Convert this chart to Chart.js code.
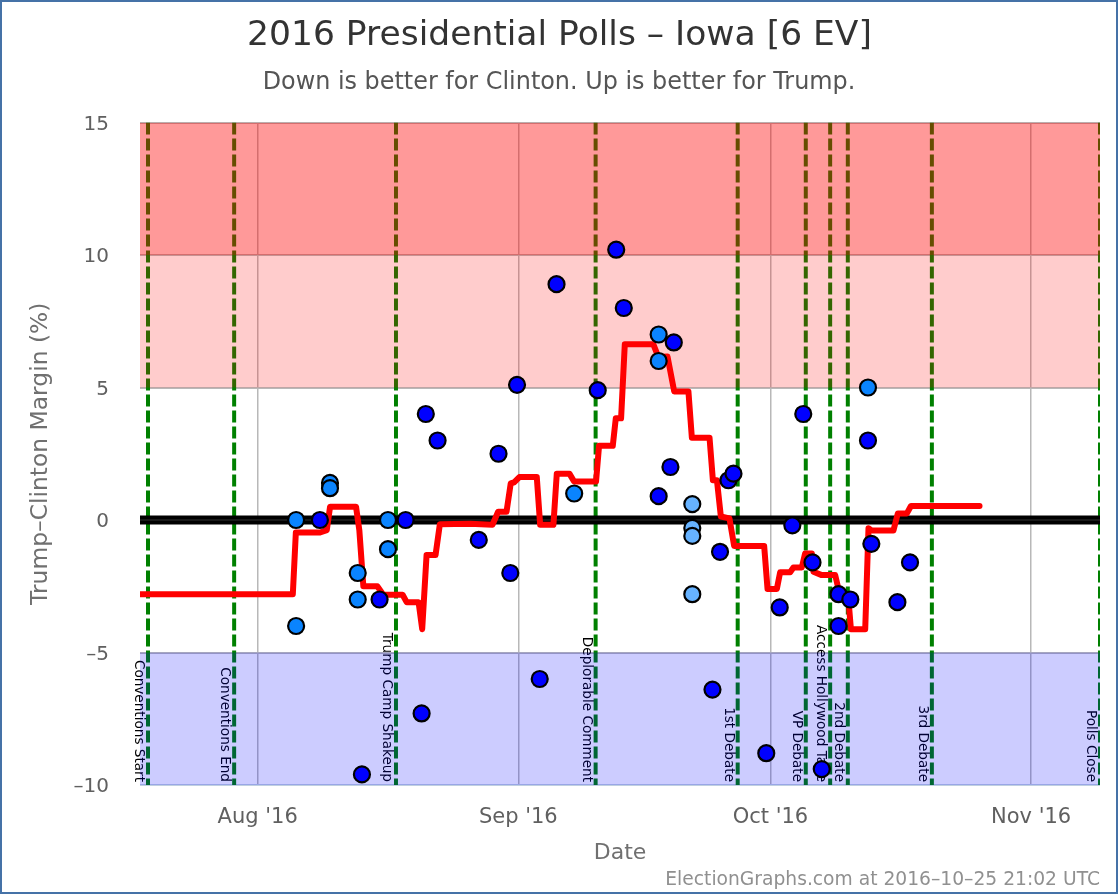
<!DOCTYPE html>
<html>
<head>
<meta charset="utf-8">
<title>2016 Presidential Polls - Iowa</title>
<script src="https://cdn.jsdelivr.net/npm/chart.js@4"></script>
<style>
  html, body { margin: 0; background: #fff; }
  #wrap { position: relative; width: 1118px; height: 894px; }
  #frame { position: absolute; inset: 0; box-sizing: border-box; border: 2px solid #4572a7; pointer-events: none; }
</style>
</head>
<body>
<div id="wrap">
  <canvas id="grafica" width="1118" height="894"></canvas>
  <div id="frame"></div>
</div>
<script>
// x values are days since 1 Aug 2016
const xMin = -14
const xMax = 100.2
const monthTicks = [0, 31, 61, 92]
const monthLabels = ["Aug '16", "Sep '16", "Oct '16", "Nov '16"]
const yTicks = [-10, -5, 0, 5, 10, 15]
const yTickLabels = ['–10', '–5', '0', '5', '10', '15']

const eventDays = [-13.05, -2.8, 16.45, 40.2, 57.1, 65.2, 68.1, 70.2, 80.2, 100.2]
const eventNames = ['Conventions Start', 'Conventions End', 'Trump Camp Shakeup', 'Deplorable Comment', '1st Debate', 'VP Debate', 'Access Hollywood Tape', '2nd Debate', '3rd Debate', 'Polls Close']

const bandFrom = [10, 5, -10]
const bandTo = [15, 10, -5]

const avgDays = [-14, 4.18, 4.54, 7.42, 8.22, 8.61, 11.7, 12.09, 12.57, 14.23, 14.94, 17.24, 17.72, 19.14, 19.57, 20.09, 21.16, 21.67, 25.24, 27.93, 28.6, 29.6, 30.1, 30.5, 31.13, 33.2, 33.6, 35.18, 35.58, 37.08, 37.64, 40.25, 40.61, 42.24, 42.6, 43.23, 43.67, 47.07, 47.67, 48.75, 49.55, 51.24, 51.65, 53.75, 54.15, 54.63, 55.1, 56.12, 56.68, 60.25, 60.65, 61.76, 62.15, 63.34, 63.73, 64.73, 65.12, 65.92, 66.11, 67.1, 68.7, 69.21, 70.25, 70.57, 72.27, 72.66, 73.07, 75.63, 76.15, 77.23, 77.71, 85.87]
const avgMargin = [-2.8, -2.8, -0.47, -0.47, -0.38, 0.5, 0.5, -0.38, -2.5, -2.5, -2.82, -2.82, -3.1, -3.1, -4.12, -1.32, -1.32, -0.16, -0.14, -0.18, 0.31, 0.31, 1.38, 1.42, 1.62, 1.62, -0.18, -0.18, 1.75, 1.75, 1.45, 1.45, 2.8, 2.8, 3.84, 3.84, 6.63, 6.63, 6.15, 6.17, 4.85, 4.85, 3.1, 3.1, 1.5, 1.5, 0.13, 0.06, -0.98, -0.98, -2.6, -2.6, -1.97, -1.97, -1.79, -1.79, -1.26, -1.26, -1.95, -2.08, -2.08, -2.77, -2.9, -4.12, -4.12, -0.31, -0.4, -0.4, 0.25, 0.25, 0.53, 0.53]

const pollDaysDark = [7.4, 14.5, 17.6, 19.5, 12.4, 21.4, 20, 26.3, 28.65, 30.05, 30.85, 33.55, 35.55, 40.45, 42.65, 43.55, 49.5, 49.1, 47.7, 54.1, 55, 56, 56.6, 60.5, 62.1, 63.6, 64.9, 66, 67.1, 69.1, 69.1, 70.5, 72.6, 73, 76.1, 77.6]
const pollValsDark = [0, -3, 0, -7.3, -9.6, 3, 4, -0.75, 2.5, -2, 5.1, -6, 8.9, 4.9, 10.2, 8, 6.7, 2, 0.9, -6.4, -1.2, 1.5, 1.75, -8.8, -3.3, -0.2, 4, -1.6, -9.4, -2.8, -4, -3, 3, -0.9, -3.1, -1.6]
const pollDaysMid = [4.57, 8.6, 8.6, 15.5, 15.5, 11.9, 11.9, 4.57, 37.65, 47.7, 47.7, 72.6]
const pollValsMid = [0, 1.4, 1.2, 0, -1.1, -2, -3, -4, 1, 7, 6, 5]
const pollDaysLight = [51.7, 51.7, 51.7, 51.7]
const pollValsLight = [0.6, -0.3, -0.6, -2.8]

const fuente = 'DejaVu Sans'
const zip = (xs, ys) => xs.map((x, i) => ({ x, y: ys[i] }))

function puntos(dias, valores, color, order) {
  return {
    data: zip(dias, valores), order, showLine: false,
    pointRadius: 8, pointBorderWidth: 2.2, pointBorderColor: '#000', pointBackgroundColor: color
  }
}

function horizontal(y, width, color, order) {
  return { data: [{ x: xMin, y }, { x: xMax, y }], order, borderColor: color, borderWidth: width, pointRadius: 0 }
}

const bandColors = ['rgba(255,0,0,0.4)', 'rgba(255,0,0,0.2)', 'rgba(0,0,255,0.2)']
const bandas = bandFrom.map((from, i) => ({
  data: [{ x: xMin, y: bandTo[i] }, { x: xMax, y: bandTo[i] }],
  order: 20, borderWidth: 0, pointRadius: 0,
  fill: { value: from }, backgroundColor: bandColors[i]
}))

const eventos = eventDays.map(d => ({
  data: [{ x: d, y: 15 }, { x: d, y: -10 }],
  order: 30, borderColor: '#008000', borderWidth: 4, borderDash: [12, 4], pointRadius: 0
}))

// event names go under the bands, so they tint like the dashed lines
const textosEventos = {
  id: 'textosEventos',
  beforeDatasetsDraw(chart) {
    const { ctx, scales } = chart
    ctx.save()
    ctx.fillStyle = '#000'
    ctx.font = '13.6px "' + fuente + '"'
    ctx.textAlign = 'right'
    ctx.textBaseline = 'alphabetic'
    eventNames.forEach((nombre, i) => {
      ctx.save()
      ctx.translate(scales.x.getPixelForValue(eventDays[i]) - 13, scales.y.bottom - 3)
      ctx.rotate(Math.PI / 2)
      ctx.fillText(nombre, 0, 0)
      ctx.restore()
    })
    ctx.restore()
  }
}

// title, subtitle and credit are centred on the whole frame, not on the padded layout
const textos = {
  id: 'textos',
  afterDraw(chart) {
    const { ctx } = chart
    const escribir = (texto, x, y, size, color, align) => {
      ctx.fillStyle = color
      ctx.font = size + 'px "' + fuente + '"'
      ctx.textAlign = align
      ctx.textBaseline = 'middle'
      ctx.fillText(texto, x, y)
    }
    ctx.save()
    escribir('2016 Presidential Polls – Iowa [6 EV]', 559.5, 36.5, 34.5, '#333', 'center')
    escribir('Down is better for Clinton. Up is better for Trump.', 559, 82.5, 23.9, '#555', 'center')
    escribir('ElectionGraphs.com at 2016–10–25 21:02 UTC', 1100, 880, 18.7, '#909090', 'right')
    ctx.restore()
  }
}

new Chart(document.getElementById('grafica'), {
  type: 'line',
  data: {
    datasets: [
      ...eventos,
      ...bandas,
      horizontal(0, 9, '#000', 10),
      horizontal(0, 1, '#333', 9),
      {
        data: zip(avgDays, avgMargin), order: 5, borderColor: '#f00', borderWidth: 6,
        borderCapStyle: 'round', borderJoinStyle: 'round', pointRadius: 0
      },
      puntos(pollDaysLight, pollValsLight, '#66b2ff', 3),
      puntos(pollDaysMid, pollValsMid, '#0a84ff', 2),
      puntos(pollDaysDark, pollValsDark, '#0000ff', 1)
    ]
  },
  options: {
    responsive: false,
    animation: false,
    layout: { padding: { top: 122.5, right: 18, bottom: 0, left: 0 } },
    plugins: {
      legend: { display: false },
      tooltip: { enabled: false }
    },
    scales: {
      x: {
        type: 'linear',
        min: xMin,
        max: xMax,
        afterFit: s => { s.height = 109 },
        afterBuildTicks: s => { s.ticks = monthTicks.map(value => ({ value })) },
        border: { display: false },
        grid: { color: '#b8b8b8', lineWidth: 1.5, drawTicks: false },
        ticks: {
          color: '#606060', padding: 20, maxRotation: 0,
          font: { family: fuente, size: 21 },
          callback: v => monthLabels[monthTicks.indexOf(v)]
        },
        title: {
          display: true, text: 'Date', color: '#707070',
          font: { family: fuente, size: 22 },
          padding: { top: 0, bottom: 28 }
        }
      },
      y: {
        min: -10,
        max: 15,
        afterFit: s => { s.width = 140 },
        afterBuildTicks: s => { s.ticks = yTicks.map(value => ({ value })) },
        border: { display: false },
        grid: {
          lineWidth: 2, drawTicks: false,
          color: c => c.tick.value === -10 ? '#c0d0e0' : '#b8b8b8'
        },
        ticks: {
          color: '#606060', padding: 31,
          // empty first line with a 4px line height pushes the label 2px below its tick
          font: { family: fuente, size: 20, lineHeight: 0.2 },
          callback: v => ['', yTickLabels[yTicks.indexOf(v)]]
        },
        title: {
          display: true, text: 'Trump–Clinton Margin (%)', color: '#707070',
          font: { family: fuente, size: 23.4 },
          padding: { top: 27, bottom: 0 }
        }
      }
    }
  },
  plugins: [textosEventos, textos]
})
</script>
</body>
</html>
